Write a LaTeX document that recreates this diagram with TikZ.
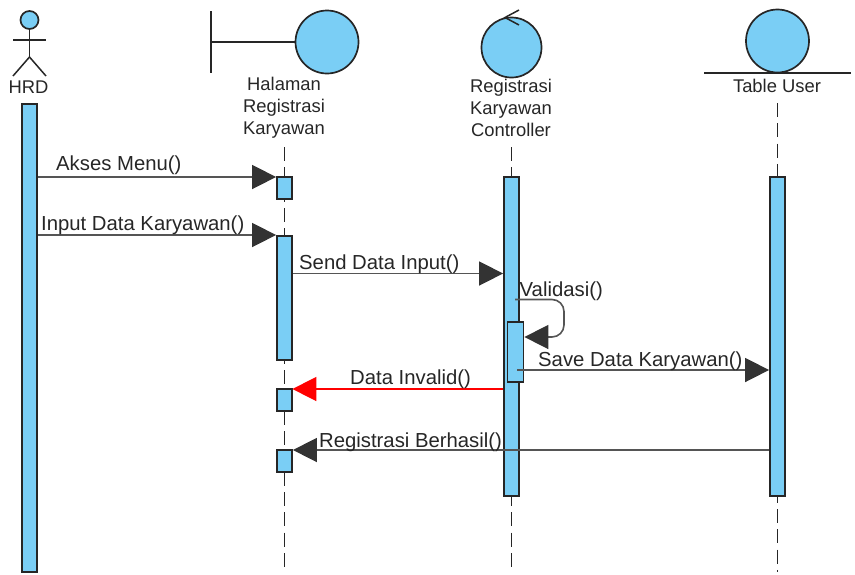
\documentclass[tikz,border=0pt]{standalone}
\usepackage{fontspec}
\setmainfont{Liberation Sans}
\usetikzlibrary{arrows.meta}
\definecolor{myblue}{RGB}{122, 206, 245}
\definecolor{mydark}{RGB}{38, 38, 38}
\definecolor{myline}{RGB}{85, 85, 85}
\definecolor{myhead}{RGB}{51, 51, 51}
\tikzset{
  bar/.style = {draw = mydark, line width = 1.8pt, fill = myblue, minimum width = 15pt, inner sep = 0pt},
  ball/.style = {circle, draw = mydark, line width = 1.7pt, fill = myblue, inner sep = 0pt},
  life/.style = {draw = mydark, line width = 1.4pt, dash pattern = on 14pt off 6.3pt},
  msg/.style = {draw = myline, line width = 1.6pt, arrows = {-{Triangle[length=24pt,width=24pt,color=myhead]}}},
  bad/.style = {draw = red, line width = 1.6pt, arrows = {-{Triangle[length=24pt,width=24pt,color=red]}}, shorten >= -0.5pt},
  stick/.style = {draw = mydark, line width = 1.5pt},
  title/.style = {align = center, font = \fontsize{18.4}{21.8}\selectfont, text = mydark, inner sep = 0pt},
  word/.style = {font = \fontsize{20.3}{22}\selectfont, text = mydark, inner sep = 0pt, anchor = base west}
}
\begin{document}
\begin{tikzpicture}[x = 1pt, y = -1pt]
\useasboundingbox (0,0) rectangle (855,574);

% heads
\node[ball, minimum size = 18pt] (hrdhead) at (29.5, 20) {};
\draw[stick] (hrdhead.south) -- (29.5, 57);
\draw[stick] (13, 40) -- (46, 40);
\draw[stick] (13, 76) -- (29.5, 57) -- (46, 76);
\node[title] (hrdlabel) at (28.5, 87) {HRD};

\node[ball, minimum size = 63pt] (halball) at (327, 42) {};
\draw[stick] (211, 11) -- (211, 73);
\draw[stick] (211, 42) -- (halball.west);
\node[title] (hallabel) at (284, 108) {Halaman\\Registrasi\\Karyawan};

\node[ball, minimum size = 60pt] (conball) at (511.5, 47.5) {};
\draw[stick] (519, 10) -- (505, 17.5) -- (519, 25);
\node[title] (conlabel) at (511, 108) {Registrasi\\Karyawan\\Controller};

\node[ball, minimum size = 63pt] (tabball) at (777.5, 41) {};
\draw[stick] (704, 73) -- (851, 73);
\node[title] (tablabel) at (777, 85.5) {Table User};

% lifelines
\coordinate (haltop) at (284.5, 147);
\coordinate (contop) at (511.5, 147);
\coordinate (tabtop) at (777.5, 103);
\coordinate (halend) at (284.5, 568);
\coordinate (conend) at (511.5, 568);
\coordinate (tabend) at (777.5, 572);
\draw[life] (haltop) -- (halend);
\draw[life] (contop) -- (conend);
\draw[life] (tabtop) -- (tabend);

% bars
\node[bar, minimum height = 468pt] (hrdbar) at (29.5, 338) {};
\node[bar, minimum height = 22pt] (halbara) at (284.5, 188) {};
\node[bar, minimum height = 124pt] (halbarb) at (284.5, 298) {};
\node[bar, minimum height = 22pt] (halbarc) at (284.5, 400) {};
\node[bar, minimum height = 22pt] (halbard) at (284.5, 461) {};
\node[bar, minimum height = 319pt] (conbar) at (511.5, 336.5) {};
\node[bar, minimum height = 319pt] (tabbar) at (777.5, 336.5) {};

% messages
\draw[msg] (hrdbar.east |- 0, 177) -- (halbara.west |- 0, 177);
\draw[msg] (hrdbar.east |- 0, 235) -- (halbarb.west |- 0, 235);
\draw[msg] (halbarb.east |- 0, 273.5) -- (conbar.west |- 0, 273.5);
\draw[bad] (conbar.west |- 0, 389) -- (halbarc.east |- 0, 389);
\draw[msg] (tabbar.west |- 0, 450) -- (halbard.east |- 0, 450);

\node[bar, minimum width = 16pt, minimum height = 60pt] (conself) at (515.5, 352) {};
\draw[msg, rounded corners = 12pt] (515, 299.5) -- (564, 299.5) -- (564, 337) -- (conself.east |- 0, 337);
\draw[msg] (517, 370) -- (tabbar.west |- 0, 370);

% labels
\node[word] (aksesmsg) at (56, 170) {Akses Menu()};
\node[word] (inputmsg) at (41, 230) {Input Data Karyawan()};
\node[word] (sendmsg) at (299, 269) {Send Data Input()};
\node[word] (validmsg) at (519.5, 296) {Validasi()};
\node[word] (savemsg) at (538, 366) {Save Data Karyawan()};
\node[word] (invalidmsg) at (350, 384) {Data Invalid()};
\node[word] (berhasilmsg) at (319, 447) {Registrasi Berhasil()};
\end{tikzpicture}
\end{document}
